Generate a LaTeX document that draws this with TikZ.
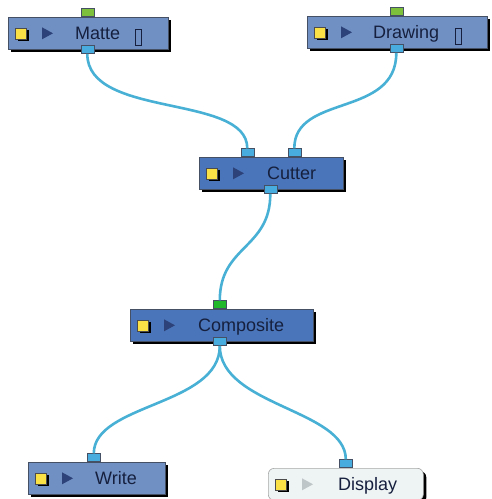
\documentclass[tikz,border=0pt]{standalone}
\usepackage{fontspec}
\setmainfont{Liberation Sans}
\usetikzlibrary{positioning, calc, shadows}
\definecolor{PaleModule}{RGB}{112,144,196}
\definecolor{DeepModule}{RGB}{74,117,186}
\definecolor{WhiteModule}{RGB}{238,243,243}
\definecolor{ModuleEdge}{RGB}{70,80,100}
\definecolor{LabelNavy}{RGB}{22,32,62}
\definecolor{PlayNavy}{RGB}{44,66,120}
\definecolor{PlayGray}{RGB}{190,198,200}
\definecolor{IconYellow}{RGB}{250,226,70}
\definecolor{PortBlue}{RGB}{72,172,222}
\definecolor{PortLime}{RGB}{124,192,60}
\definecolor{PortGreen}{RGB}{34,184,44}
\definecolor{CableBlue}{RGB}{72,176,212}

\begin{document}
\begin{tikzpicture}[x=1pt, y=-1pt,
  font=\fontsize{18}{21}\selectfont,
  module/.style={draw=ModuleEdge, line width=0.6pt, anchor=north west,
    minimum height=32pt, inner sep=0pt,
    drop shadow={shadow xshift=3pt, shadow yshift=-3pt, fill=black, opacity=1}},
  port/.style={draw=ModuleEdge, line width=0.6pt, fill=PortBlue,
    minimum width=13pt, minimum height=8pt, inner sep=0pt},
  cable/.style={CableBlue, line width=2.6pt},
  lbl/.style={text=LabelNavy, anchor=base west, inner sep=0pt},
  glyphbox/.style={draw=LabelNavy, line width=1.2pt, minimum width=6pt,
    minimum height=16pt, inner sep=0pt}]
\useasboundingbox (0,0) rectangle (491,499);

% Module boxes
\node[module, fill=PaleModule, minimum width=160pt] (matte) at (8,17) {};
\node[module, fill=PaleModule, minimum width=180pt] (drawing) at (307,16) {};
\node[module, fill=DeepModule, minimum width=144pt] (cutter) at (199,157) {};
\node[module, fill=DeepModule, minimum width=183pt] (composite) at (130,309) {};
\node[module, fill=PaleModule, minimum width=137pt] (write) at (28,462) {};
\node[module, fill=WhiteModule, draw=gray!70, rounded corners=6pt,
  minimum width=155pt] (display) at (268,468) {};

% Key icon and play arrow on each module
\foreach \n/\pc in {matte/PlayNavy, drawing/PlayNavy, cutter/PlayNavy,
                    composite/PlayNavy, write/PlayNavy, display/PlayGray}{
  \node[draw=black!70, fill=IconYellow, minimum size=11pt, inner sep=0pt,
    drop shadow={shadow xshift=2.5pt, shadow yshift=-2.5pt, fill=black, opacity=1}]
    (\n-key) at ($(\n.west)+(13,0)$) {};
  \fill[\pc] ($(\n.west)+(34,-6)$) -- ++(11,6) -- ++(-11,6) -- cycle;
}

% Labels
\node[lbl] (matte-label) at ($(matte.west)+(67,6.5)$) {Matte};
\node[lbl] (drawing-label) at ($(drawing.west)+(66,6.5)$) {Drawing};
\node[lbl] (cutter-label) at ($(cutter.west)+(68,6.5)$) {Cutter};
\node[lbl] (composite-label) at ($(composite.west)+(68,6.5)$) {Composite};
\node[lbl] (write-label) at ($(write.west)+(67,6.5)$) {Write};
\node[lbl] (display-label) at ($(display.west)+(70,6.5)$) {Display};
\node[glyphbox] (matte-mark) at ($(matte.west)+(130.5,4)$) {};
\node[glyphbox] (drawing-mark) at ($(drawing.west)+(151.5,4)$) {};

% Ports
\node[port, fill=PortLime, anchor=south] (matte-in) at ([xshift=-1pt]matte.north) {};
\node[port] (matte-out) at ([xshift=-1pt]matte.south) {};
\node[port, fill=PortLime, anchor=south] (drawing-in) at ([xshift=-1pt]drawing.north) {};
\node[port] (drawing-out) at ([xshift=-1pt]drawing.south) {};
\node[port, anchor=south] (cutter-inA) at ([xshift=-24pt]cutter.north) {};
\node[port, anchor=south] (cutter-inB) at ([xshift=23pt]cutter.north) {};
\node[port] (cutter-out) at ([xshift=-1pt]cutter.south) {};
\node[port, fill=PortGreen, anchor=south] (composite-in) at ([xshift=-2pt]composite.north) {};
\node[port] (composite-out) at ([xshift=-2pt]composite.south) {};
\node[port, anchor=south] (write-in) at ([xshift=-3pt]write.north) {};
\node[port, anchor=south] (display-in) at (display.north) {};

% Cables
\draw[cable] (matte-out.south) .. controls +(0,65) and +(0,-55) .. (cutter-inA.north);
\draw[cable] (drawing-out.south) .. controls +(0,65) and +(0,-55) .. (cutter-inB.north);
\draw[cable] (cutter-out.south) .. controls +(0,55) and +(0,-55) .. (composite-in.north);
\draw[cable] (composite-out.south) .. controls +(0,60) and +(0,-50) .. (write-in.north);
\draw[cable] (composite-out.south) .. controls +(0,60) and +(0,-50) .. (display-in.north);

\end{tikzpicture}
\end{document}
